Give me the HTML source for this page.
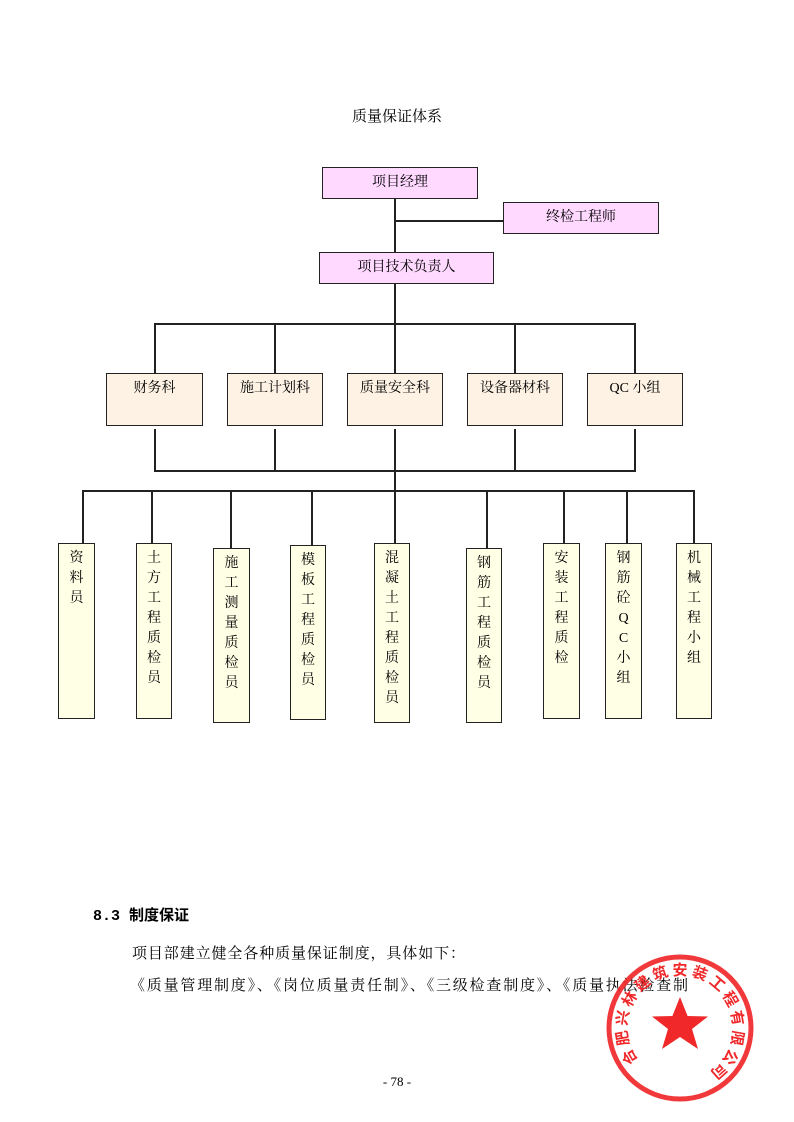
<!DOCTYPE html>
<html><head><meta charset="utf-8"><style>
html,body{margin:0;padding:0;background:#fff;}
body{width:794px;height:1122px;position:relative;overflow:hidden;font-family:"Liberation Serif","Noto Serif CJK SC","Noto Sans CJK SC",serif;color:#000;}
.b{position:absolute;box-sizing:border-box;border:1.5px solid #222;font-size:14px;text-align:center;}
.p{background:#ffd9ff;}
.d{background:#fdf2e4;}
.v{background:#ffffe6;line-height:20px;padding-top:5px;}
.h{position:absolute;background:#222;height:1.5px;}
.l{position:absolute;background:#222;width:1.5px;}
.t{position:absolute;white-space:nowrap;}
</style></head><body>
<div class="t" style="left:0;width:794px;text-align:center;top:105px;font-size:15px;">质量保证体系</div>

<div class="b p" style="left:322px;top:167px;width:156px;height:32px;line-height:29px;">项目经理</div>
<div class="b p" style="left:503px;top:202px;width:156px;height:32px;line-height:29px;">终检工程师</div>
<div class="b p" style="left:319px;top:252px;width:175px;height:32px;line-height:29px;">项目技术负责人</div>
<div class="l" style="left:394px;top:199px;height:53px;"></div>
<div class="h" style="left:395px;top:220px;width:108px;"></div>
<div class="l" style="left:394px;top:284px;height:89px;"></div>
<div class="h" style="left:154px;top:323px;width:482px;"></div>
<div class="l" style="left:154px;top:323px;height:50px;"></div>
<div class="l" style="left:274px;top:323px;height:50px;"></div>
<div class="l" style="left:514px;top:323px;height:50px;"></div>
<div class="l" style="left:634px;top:323px;height:50px;"></div>

<div class="b d" style="left:106px;top:373px;width:97px;height:53px;line-height:30px;">财务科</div>
<div class="b d" style="left:227px;top:373px;width:96px;height:53px;line-height:30px;">施工计划科</div>
<div class="b d" style="left:347px;top:373px;width:96px;height:53px;line-height:30px;">质量安全科</div>
<div class="b d" style="left:467px;top:373px;width:96px;height:53px;line-height:30px;">设备器材科</div>
<div class="b d" style="left:587px;top:373px;width:96px;height:53px;line-height:30px;">QC 小组</div>

<div class="l" style="left:154px;top:429px;height:42px;"></div>
<div class="l" style="left:274px;top:429px;height:42px;"></div>
<div class="l" style="left:394px;top:429px;height:114px;"></div>
<div class="l" style="left:514px;top:429px;height:42px;"></div>
<div class="l" style="left:634px;top:429px;height:42px;"></div>
<div class="h" style="left:154px;top:470px;width:482px;"></div>
<div class="h" style="left:82px;top:490px;width:613px;"></div>
<div class="l" style="left:82px;top:490px;height:53px;"></div>
<div class="l" style="left:151px;top:490px;height:53px;"></div>
<div class="l" style="left:230px;top:490px;height:58px;"></div>
<div class="l" style="left:311px;top:490px;height:55px;"></div>
<div class="l" style="left:486px;top:490px;height:58px;"></div>
<div class="l" style="left:563px;top:490px;height:53px;"></div>
<div class="l" style="left:626px;top:490px;height:53px;"></div>
<div class="l" style="left:693px;top:490px;height:53px;"></div>

<div class="b v" style="left:58px;top:543px;width:37px;height:176px;">资<br>料<br>员</div>
<div class="b v" style="left:136px;top:543px;width:36px;height:176px;">土<br>方<br>工<br>程<br>质<br>检<br>员</div>
<div class="b v" style="left:213px;top:548px;width:37px;height:175px;">施<br>工<br>测<br>量<br>质<br>检<br>员</div>
<div class="b v" style="left:290px;top:545px;width:36px;height:175px;">模<br>板<br>工<br>程<br>质<br>检<br>员</div>
<div class="b v" style="left:374px;top:543px;width:36px;height:180px;">混<br>凝<br>土<br>工<br>程<br>质<br>检<br>员</div>
<div class="b v" style="left:466px;top:548px;width:36px;height:175px;">钢<br>筋<br>工<br>程<br>质<br>检<br>员</div>
<div class="b v" style="left:543px;top:543px;width:37px;height:176px;">安<br>装<br>工<br>程<br>质<br>检</div>
<div class="b v" style="left:605px;top:543px;width:37px;height:176px;">钢<br>筋<br>砼<br>Q<br>C<br>小<br>组</div>
<div class="b v" style="left:676px;top:543px;width:36px;height:176px;">机<br>械<br>工<br>程<br>小<br>组</div>

<div class="t" style="left:93px;top:904px;font-size:15px;font-weight:bold;font-family:'Liberation Mono','Noto Sans CJK SC',monospace;">8.3 制度保证</div>
<div class="t" style="left:132px;top:942px;font-size:15px;letter-spacing:0.9px;font-family:'Noto Serif CJK SC','Liberation Serif',serif;">项目部建立健全各种质量保证制度，具体如下：</div>
<div class="t" style="left:130px;top:974px;font-size:15px;letter-spacing:1.8px;font-family:'Noto Serif CJK SC','Liberation Serif',serif;">《质量管理制度》、《岗位质量责任制》、《三级检查制度》、《质量执法检查制</div>
<div class="t" style="left:0;width:794px;text-align:center;top:1074px;font-size:13px;">- 78 -</div>

<svg style="position:absolute;left:0;top:0" width="794" height="1122">
<circle cx="680" cy="1028" r="71" fill="none" stroke="#f0282a" stroke-width="5" opacity="0.92"/>
<polygon fill="#f0282a" points="680,997 687.6,1016 708,1016.5 692,1029 698,1049 680,1037 662,1049 668,1029 652,1016.5 672.4,1016" />
<g fill="#f0282a" font-size="15" font-weight="bold" font-family="Noto Sans CJK SC,sans-serif" text-anchor="middle">
<text transform="rotate(-120 680 1028) translate(680 975)">合</text>
<text transform="rotate(-100 680 1028) translate(680 975)">肥</text>
<text transform="rotate(-80 680 1028) translate(680 975)">兴</text>
<text transform="rotate(-60 680 1028) translate(680 975)">林</text>
<text transform="rotate(-40 680 1028) translate(680 975)">建</text>
<text transform="rotate(-20 680 1028) translate(680 975)">筑</text>
<text transform="rotate(0 680 1028) translate(680 975)">安</text>
<text transform="rotate(20 680 1028) translate(680 975)">装</text>
<text transform="rotate(40 680 1028) translate(680 975)">工</text>
<text transform="rotate(60 680 1028) translate(680 975)">程</text>
<text transform="rotate(80 680 1028) translate(680 975)">有</text>
<text transform="rotate(100 680 1028) translate(680 975)">限</text>
<text transform="rotate(120 680 1028) translate(680 975)">公</text>
<text transform="rotate(138 680 1028) translate(680 975)">司</text>
</g>
</svg>
</body></html>
